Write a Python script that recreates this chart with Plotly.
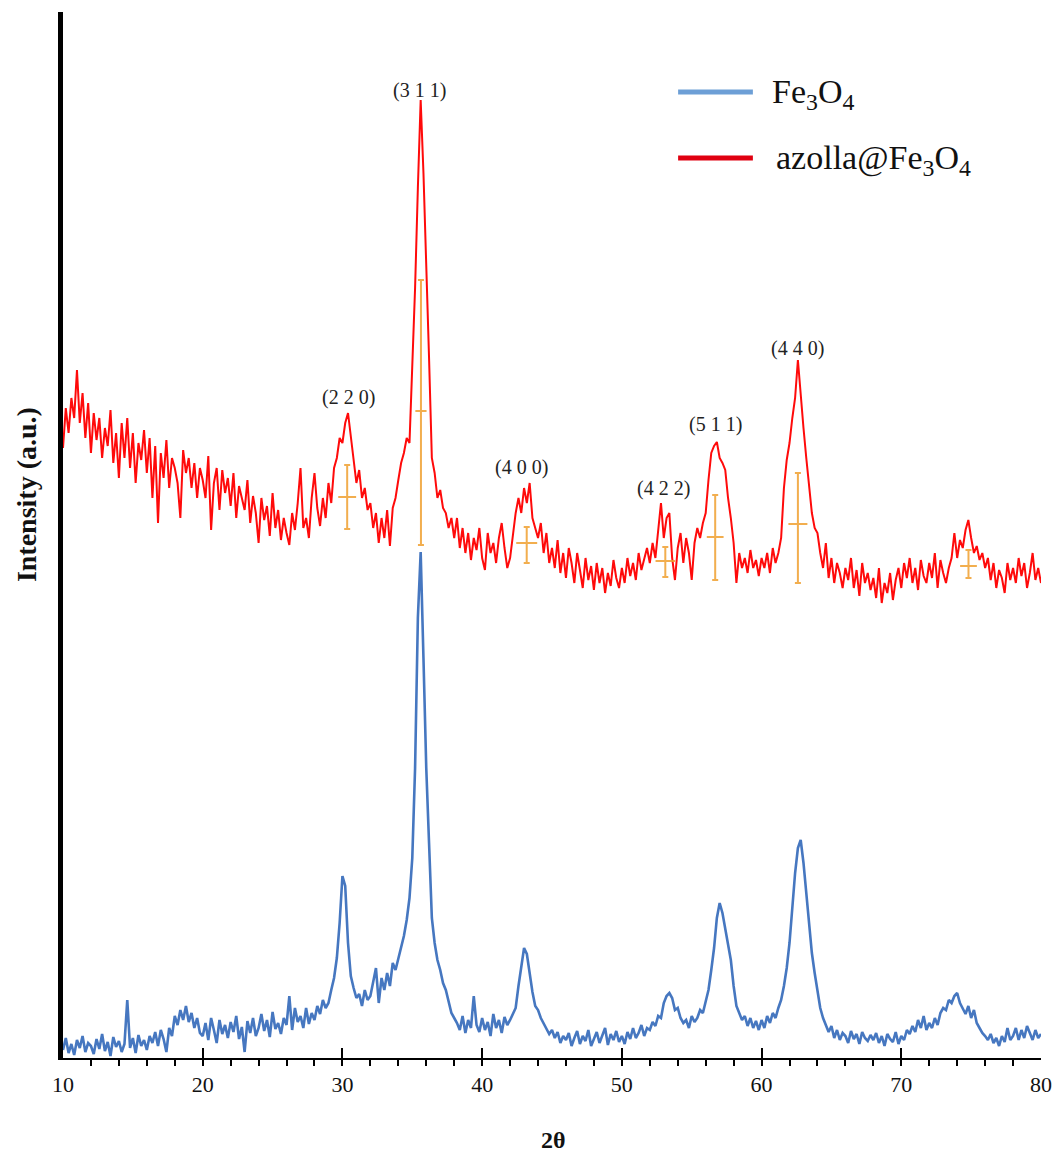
import numpy as np
import plotly.graph_objects as go

# ---------------- data ----------------
two_theta = np.round(np.arange(10.0, 80.0001, 0.2), 1)

fe3o4_intensity = [
    8, 20, 5, 14, 3, 18, 10, 22, 6, 15,
    12, 4, 19, 9, 24, 7, 16, 2, 21, 11,
    17, 6, 14, 58, 10, 20, 5, 23, 12, 18,
    8, 22, 15, 26, 12, 28, 19, 6, 30, 22,
    42, 33, 48, 38, 52, 36, 45, 30, 40, 25,
    22, 35, 18, 40, 28, 15, 38, 24, 33, 20,
    36, 26, 42, 19, 31, 6, 37, 25, 40, 22,
    30, 44, 27, 38, 21, 46, 29, 35, 24, 40,
    33, 62, 28, 50, 36, 42, 30, 50, 34, 45,
    38, 52, 44, 58, 50, 55, 68, 80, 100, 135,
    182, 172, 115, 82, 70, 60, 64, 52, 68, 58,
    62, 75, 90, 55, 80, 68, 85, 72, 95, 88,
    100, 112, 122, 138, 160, 200, 290, 440, 506, 400,
    290, 215, 140, 115, 98, 88, 75, 68, 55, 45,
    40, 35, 28, 42, 25, 38, 30, 62, 33, 26,
    40, 28, 36, 22, 44, 30, 38, 25, 41, 33,
    38, 44, 50, 72, 92, 110, 104, 82, 66, 52,
    48, 40, 35, 30, 24, 28, 20, 26, 15, 22,
    18, 25, 12, 20, 27, 14, 22, 17, 28, 12,
    20, 26, 15, 23, 30, 13, 24, 18, 27, 16,
    22, 14, 26, 19, 30, 20, 25, 33, 22, 30,
    28, 36, 32, 42, 40, 55, 62, 65, 60, 48,
    50, 40, 35, 38, 30, 42, 36, 40, 48, 45,
    58, 68, 88, 110, 140, 155, 145, 130, 112, 98,
    72, 52, 45, 38, 42, 32, 40, 30, 37, 28,
    38, 30, 42, 35, 45, 40, 50, 58, 72, 90,
    115, 150, 185, 210, 218, 195, 165, 130, 105, 85,
    65, 50, 40, 32, 26, 32, 20, 28, 18, 25,
    22, 15, 27, 19, 24, 14, 26, 20, 17, 23,
    18, 25, 15, 22, 12, 24, 19, 16, 26, 14,
    22, 18, 28, 24, 32, 26, 38, 30, 42, 28,
    35, 30, 40, 33, 45, 50, 48, 58, 55, 62,
    65, 55, 50, 44, 52, 40, 48, 35, 30, 25,
    22, 18, 24, 15, 20, 12, 22, 16, 30, 18,
    22, 30, 18, 28, 20, 32, 25, 18, 28, 20,
    24,
]

azolla_intensity = [
    610, 650, 625, 660, 640, 688, 635, 665, 620, 655,
    605, 645, 618, 640, 600, 630, 612, 648, 595, 625,
    580, 635, 600, 640, 590, 625, 575, 615, 598, 628,
    585, 620, 560, 612, 535, 605, 580, 618, 570, 600,
    590, 575, 540, 608, 585, 600, 570, 595, 560, 590,
    578, 560, 602, 528, 575, 590, 548, 588, 565, 580,
    552, 585, 540, 572, 560, 548, 578, 535, 562, 545,
    515, 560, 538, 552, 522, 565, 530, 548, 518, 540,
    525, 513, 545, 528, 555, 590, 530, 540, 520, 560,
    585, 550, 532, 560, 540, 575, 555, 590, 600, 620,
    615, 635, 645, 620, 595, 575, 588, 560, 570, 548,
    555, 530, 545, 515, 540, 520, 548, 512, 550, 560,
    578, 595, 605, 620, 615, 690, 770, 870, 958, 885,
    800, 700, 600, 585, 560, 568, 550, 545, 530, 540,
    520, 540, 510, 530, 505, 525, 498, 520, 508, 530,
    500, 488, 525, 505, 515, 495, 520, 535, 510, 490,
    500, 525, 545, 560, 545, 570, 555, 575, 540, 530,
    520, 535, 505, 525, 495, 510, 490, 518, 485, 505,
    480, 510, 495, 475, 505, 488, 470, 500, 478, 492,
    468, 495, 475, 490, 465, 485, 472, 498, 480, 470,
    490, 475, 500, 482, 495, 478, 505, 488, 498, 510,
    495, 515, 500, 525, 555, 520, 540, 545, 500, 478,
    510, 525, 495, 520, 505, 478, 515, 530, 520, 535,
    545, 578, 605, 612, 616, 600, 595, 588, 560, 540,
    515, 475, 505, 490, 500, 485, 508, 490, 498, 482,
    500, 490, 505, 485, 510, 495, 505, 520, 570, 598,
    615, 640, 660, 698, 660, 630, 600, 570, 545, 530,
    525, 505, 490, 515, 480, 500, 475, 495, 485, 470,
    490, 478, 500, 470, 488, 462, 495, 475, 485, 468,
    480, 460, 490, 455, 475, 465, 485, 458, 478, 490,
    470, 495, 480, 500, 475, 490, 468, 498, 482, 475,
    495, 480, 505, 470, 498, 485, 475, 490, 500, 525,
    500, 518, 510, 528, 538, 520, 505, 512, 498, 505,
    490, 500, 478, 495, 470, 488, 480, 465, 495, 478,
    490, 475, 500, 482, 495, 470, 485, 505, 478, 490,
    475,
]

# orange peak markers (centre, upper, lower, half-width in 2θ)
peak_theta = [30.34, 35.62, 43.19, 53.11, 56.68, 62.60, 74.81]
peak_mid = [561, 647, 515, 497, 521, 534, 492]
peak_top = [593, 778, 531, 511, 563, 585, 508]
peak_bottom = [529, 513, 495, 481, 478, 475, 480]
peak_halfwidth = [0.64, 0.40, 0.75, 0.70, 0.60, 0.68, 0.60]

# Miller-index labels
hkl_labels = ["(2 2 0)", "(3 1 1)", "(4 0 0)", "(4 2 2)", "(5 1 1)", "(4 4 0)"]
hkl_theta = [30.41, 35.55, 42.83, 52.97, 56.68, 62.60]
hkl_y = [661, 968, 591, 570, 634, 710]

x_ticks = [10, 20, 30, 40, 50, 60, 70, 80]

# ---------------- figure ----------------
SERIF = "Liberation Serif"
W, H = 1064, 1156
L, R, T, B = 63, 20, 12, 98
pw, ph = W - L - R, H - T - B

def px_x(px):
    return (px - L) / pw

def px_y(py):
    return (H - B - py) / ph

fig = go.Figure()

fig.add_trace(go.Scatter(
    x=two_theta, y=fe3o4_intensity, mode="lines", name="Fe3O4",
    line=dict(color="#4677c0", width=2.6), showlegend=False,
))
fig.add_trace(go.Scatter(
    x=two_theta, y=azolla_intensity, mode="lines", name="azolla@Fe3O4",
    line=dict(color="#ff0a0a", width=2.0), showlegend=False,
))

err_plus = [t - m for t, m in zip(peak_top, peak_mid)]
err_minus = [m - b for m, b in zip(peak_mid, peak_bottom)]
fig.add_trace(go.Scatter(
    x=peak_theta, y=peak_mid, mode="markers", showlegend=False,
    marker=dict(size=1, color="rgba(0,0,0,0)"),
    opacity=0.85,
    error_y=dict(type="data", symmetric=False, array=err_plus, arrayminus=err_minus,
                 color="#f0a030", thickness=2, width=3),
    error_x=dict(type="data", array=peak_halfwidth, color="#f0a030", thickness=2, width=0),
    hoverinfo="skip",
))

annotations = []
for lab, xt, yv in zip(hkl_labels, hkl_theta, hkl_y):
    annotations.append(dict(x=xt, y=yv, xref="x", yref="y", text=lab, showarrow=False,
                            font=dict(family=SERIF, size=20, color="#222222")))

# manual legend
shapes = [
    dict(type="line", xref="paper", yref="paper", x0=px_x(680), x1=px_x(755),
         y0=px_y(92), y1=px_y(92), line=dict(color="#6d9fd6", width=5)),
    dict(type="line", xref="paper", yref="paper", x0=px_x(680), x1=px_x(755),
         y0=px_y(158), y1=px_y(158), line=dict(color="#e00010", width=5)),
]
annotations.append(dict(x=px_x(772), y=px_y(94), xref="paper", yref="paper",
                        text="Fe<sub>3</sub>O<sub>4</sub>", showarrow=False,
                        xanchor="left", yanchor="middle",
                        font=dict(family=SERIF, size=34, color="#111111")))
annotations.append(dict(x=px_x(776), y=px_y(160), xref="paper", yref="paper",
                        text="azolla@Fe<sub>3</sub>O<sub>4</sub>", showarrow=False,
                        xanchor="left", yanchor="middle",
                        font=dict(family=SERIF, size=34, color="#111111")))

# axis titles
annotations.append(dict(x=px_x(26), y=px_y(495), xref="paper", yref="paper",
                        text="<b>Intensity (a.u.)</b>", showarrow=False, textangle=-90,
                        xanchor="center", yanchor="middle",
                        font=dict(family=SERIF, size=28, color="#111111")))
annotations.append(dict(x=px_x(555), y=px_y(1140), xref="paper", yref="paper",
                        text="<b>2θ</b>", showarrow=False,
                        xanchor="center", yanchor="middle",
                        font=dict(family=SERIF, size=24, color="#111111")))

fig.update_layout(
    width=W, height=H,
    margin=dict(l=L, r=R, t=T, b=B, pad=0),
    paper_bgcolor="white", plot_bgcolor="white",
    shapes=shapes, annotations=annotations,
    showlegend=False,
)
fig.update_xaxes(
    range=[10, 80], tickvals=x_ticks, ticktext=[str(v) for v in x_ticks],
    showline=True, linecolor="black", linewidth=2, mirror=False,
    ticks="inside", ticklen=10, tickwidth=2, tickcolor="black",
    minor=dict(dtick=2, ticks="outside", ticklen=6, tickwidth=1.5, tickcolor="black"),
    showgrid=False, zeroline=False,
    tickfont=dict(family=SERIF, size=22, color="#111111"),
    ticklabelstandoff=6,
)
fig.update_yaxes(
    range=[0, ph], showline=True, linecolor="black", linewidth=5,
    showticklabels=False, ticks="", showgrid=False, zeroline=False,
)

fig.write_html("out.html")
